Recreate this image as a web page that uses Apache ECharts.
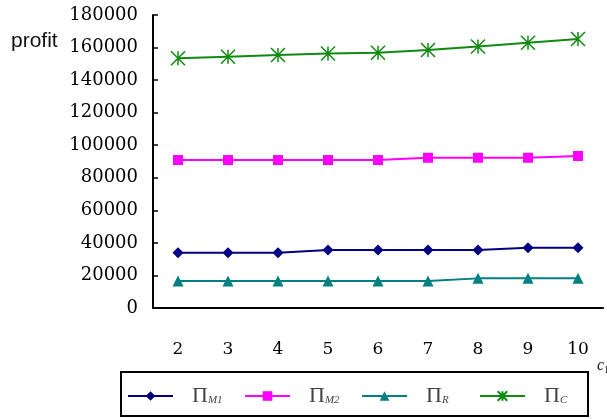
<!DOCTYPE html>
<html><head><meta charset="utf-8">
<script src="https://cdn.jsdelivr.net/npm/echarts@6/dist/echarts.min.js"></script>
<style>html,body{margin:0;padding:0;background:#fff}#c{width:607px;height:419px}</style>
</head><body><div id="c"></div>
<script>
const categories = ['2','3','4','5','6','7','8','9','10'];
const piM1 = [34000, 34000, 34000, 35600, 35600, 35600, 35600, 37000, 37000];
const piM2 = [90900, 90900, 90900, 90900, 90900, 92300, 92300, 92300, 93400];
const piR  = [16600, 16600, 16600, 16600, 16600, 16600, 18200, 18200, 18200];
const piC  = [153400, 154400, 155400, 156400, 156800, 158500, 160600, 163000, 165200];
const yTicks = {min: 0, max: 180000, interval: 20000};
const seriesNames = ['piM1', 'piM2', 'piR', 'piC'];
const subscripts = ['M1', 'M2', 'R', 'C'];

const serif = 'DejaVu Serif';
const starPath = 'path://M0,0L10,10M10,0L0,10M5,0L5,10';
function mk(name, data, color, symbol, size, extra) {
  return Object.assign({
    name, type: 'line', data, symbol, symbolSize: size,
    lineStyle: {color, width: 2}, itemStyle: {color},
    animation: false
  }, extra || {});
}
const legendLefts = [127, 244, 361, 479];
const legends = seriesNames.map((n, i) => ({
  left: legendLefts[i], top: 385, padding: 0,
  itemWidth: 45, itemHeight: 12,
  textStyle: {
    color: '#333',
    rich: {
      p: {fontFamily: 'Liberation Serif', fontSize: 22, color: '#444', padding: [0, 0, 0, 14]},
      s: {fontFamily: 'Liberation Serif', fontStyle: 'italic', fontSize: 11, color: '#444', padding: [9, 0, 0, 0]}
    }
  },
  formatter: () => '{p|Π}{s|' + subscripts[i] + '}',
  data: [n]
}));
const chart = echarts.init(document.getElementById('c'));
chart.setOption({
  backgroundColor: '#fff',
  animation: false,
  grid: {left: 153, right: 4, top: 15, bottom: 111},
  xAxis: {
    type: 'category', data: categories, boundaryGap: true,
    axisLine: {lineStyle: {color: '#000', width: 2}},
    axisTick: {inside: true, length: 5, lineStyle: {color: '#000', width: 1.5}},
    axisLabel: {margin: 33, color: '#000', fontFamily: serif, fontSize: 17}
  },
  yAxis: {
    type: 'value', min: yTicks.min, max: yTicks.max, interval: yTicks.interval,
    splitLine: {show: false},
    axisLine: {show: true, lineStyle: {color: '#000', width: 2}},
    axisTick: {show: true, inside: true, length: 5, lineStyle: {color: '#000', width: 1.5}},
    axisLabel: {margin: 15, color: '#000', fontFamily: serif, fontSize: 18, formatter: v => String(v)}
  },
  legend: legends,
  series: [
    mk('piM1', piM1, '#000080', 'diamond', 11),
    mk('piM2', piM2, '#ff00ff', 'rect', 10),
    mk('piR', piR, '#008080', 'triangle', 11),
    mk('piC', piC, '#108a10', starPath, 14, {itemStyle: {color: '#108a10', borderColor: '#108a10', borderWidth: 1.5}})
  ],
  graphic: [
    {type: 'rect', shape: {x: 121, y: 372, width: 467, height: 44}, style: {fill: 'none', stroke: '#000', lineWidth: 2}},
    {type: 'text', left: 11, top: 31, style: {text: 'profit', font: '21px "Liberation Sans"', fill: '#111'}},
    {type: 'text', left: 597, top: 358, style: {text: '{c|c}{o|1}', rich: {c: {font: 'italic 16px "Liberation Serif"', fill: '#222'}, o: {font: '10px "Liberation Serif"', fill: '#222', padding: [8,0,0,0]}}}}
  ]
});
</script></body></html>
